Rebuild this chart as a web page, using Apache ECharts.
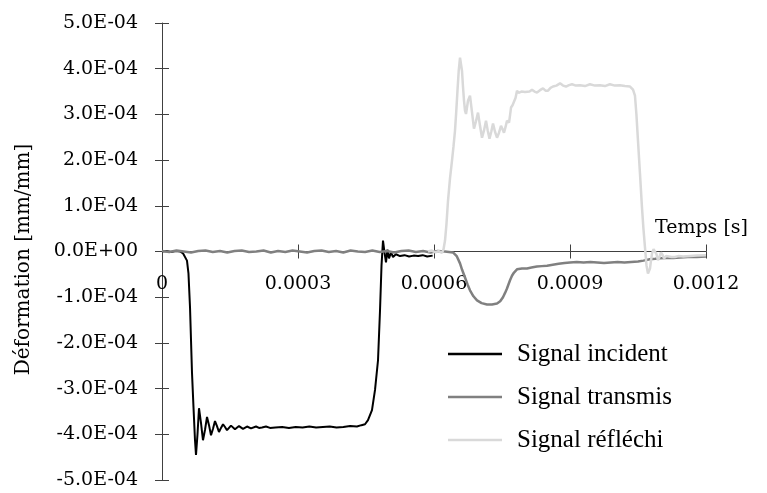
<!DOCTYPE html>
<html>
<head>
<meta charset="utf-8">
<script src="https://cdn.jsdelivr.net/npm/echarts@6.0.0/dist/echarts.min.js"></script>
<style>
  html, body { margin: 0; padding: 0; background: #fff; }
  #chart { width: 767px; height: 493px; }
</style>
</head>
<body>
<div id="chart"></div>
<script>
// temps en microsecondes, deformation en 1E-04 mm/mm
var incidentTime = [0, 10, 20, 30, 40, 46.3, 55.1, 58.4, 61.8, 66.2, 69.5, 72.8, 75, 78.3, 81.6, 86, 90.4, 94.9,
	99.3, 103.7, 108.1, 112.5, 116.9, 121.3, 125.7, 130.1, 134.6, 139, 143.4, 147.8, 152.2, 156.6, 161, 165.4,
	169.9, 174.3, 178.7, 183, 187.5, 191.9, 196.3, 200.7, 207.4, 214, 220.6, 229.4, 238.2, 250, 265, 280, 295,
	310, 325, 340, 355, 370, 385, 400, 415, 430, 440, 447.8, 454.4, 463.2, 469.9, 476.5, 480.9, 484.2, 487.5,
	490.8, 494.1, 497.4, 500.7, 505.2, 509.6, 516, 525, 535, 545, 555, 565, 575, 585, 597];
var incidentStrain = [0, 0.01, -0.01, 0.01, 0, -0.04, -0.2, -0.48, -1.22, -2.66, -3.41, -4.13, -4.45, -4.0, -3.43,
	-3.75, -4.13, -3.9, -3.62, -3.8, -4.02, -3.88, -3.71, -3.82, -3.95, -3.86, -3.78, -3.84, -3.91, -3.86, -3.81,
	-3.85, -3.89, -3.85, -3.82, -3.86, -3.88, -3.85, -3.83, -3.86, -3.87, -3.84, -3.83, -3.86, -3.85, -3.83, -3.86,
	-3.85, -3.84, -3.86, -3.84, -3.85, -3.83, -3.85, -3.84, -3.83, -3.85, -3.84, -3.82, -3.83, -3.8, -3.78, -3.69,
	-3.47, -3.03, -2.38, -1.29, -0.31, 0.24, -0.02, -0.24, 0.04, -0.15, -0.02, -0.12, -0.06, -0.1, -0.08, -0.11,
	-0.09, -0.1, -0.08, -0.11, -0.09];

var transmisTime = [0, 16, 32, 48, 64, 80, 96, 112, 128, 144, 160, 176, 192, 208, 224, 240, 256, 272, 288, 304,
	320, 336, 352, 368, 384, 400, 416, 432, 448, 464, 480, 496, 512, 528, 544, 560, 576, 592, 608, 624, 641.9,
	650, 657.4, 662, 668.4, 674, 679.4, 687, 694.9, 705, 716.9, 728, 739, 746, 752.2, 757, 761, 767.7, 772, 776.5,
	783.1, 794, 805.2, 815, 827, 838, 849.3, 862, 875, 888, 900, 915, 930, 945, 960, 975, 990, 1005, 1020, 1035,
	1050, 1062, 1076, 1088, 1098.5, 1112, 1128, 1142.6, 1160, 1180, 1200];
var transmisStrain = [0.01, -0.01, 0.02, 0, -0.02, 0.01, 0.02, -0.01, 0.01, -0.02, 0.01, 0.02, -0.01, 0, 0.02,
	-0.02, 0.01, -0.01, 0.02, 0, -0.02, 0.01, 0.02, -0.01, 0.01, -0.02, 0.02, 0, -0.01, 0.02, -0.01, 0.01, -0.02,
	0.01, 0.02, -0.01, 0.01, -0.02, 0.01, 0, -0.02, -0.1, -0.26, -0.4, -0.57, -0.72, -0.85, -0.98, -1.07, -1.13,
	-1.16, -1.16, -1.14, -1.09, -1.0, -0.9, -0.81, -0.63, -0.53, -0.46, -0.39, -0.37, -0.37, -0.35, -0.33, -0.32,
	-0.31, -0.29, -0.27, -0.25, -0.24, -0.23, -0.24, -0.23, -0.24, -0.25, -0.24, -0.23, -0.24, -0.23, -0.22, -0.2,
	-0.17, -0.16, -0.15, -0.14, -0.14, -0.13, -0.12, -0.12, -0.11];

var reflechiTime = [586.8, 595, 603, 610, 617.6, 621, 624.3, 627.5, 630.9, 635.3, 639.7, 643, 646.3, 649, 651.8,
	654.5, 657.4, 659.6, 661.8, 664, 666.2, 668.4, 670.6, 675, 679.4, 683.8, 688.2, 692.6, 697.1, 701.5, 705.9,
	710.3, 714.7, 718.5, 722.4, 726.3, 730.2, 734.6, 739, 743.4, 747.8, 751, 754.4, 757.7, 761, 765.5, 767.7, 769.9,
	773.2, 776.5, 779.8, 783.1, 786.4, 789.7, 793, 796.3, 800.8, 805.2, 810.7, 816.2, 821.7, 827.2, 833.8, 840.5,
	846, 851.5, 857, 862.5, 870, 878, 884.6, 891.2, 897.8, 904.4, 913, 922, 933, 944, 955, 966, 977, 988, 999,
	1010, 1021, 1032.4, 1039, 1043.3, 1046.5, 1050, 1054.4, 1058.8, 1062, 1065.4, 1068.7, 1072, 1074.3, 1076.5,
	1078.7, 1081, 1084.3, 1087.5, 1090.8, 1094, 1097.4, 1100.7, 1104, 1107.4, 1112, 1116.2, 1124, 1131.6, 1140,
	1150, 1164.7, 1180, 1200];
var reflechiStrain = [0, 0.02, -0.02, 0.01, -0.03, 0.05, 0.24, 0.6, 1.11, 1.6, 1.99, 2.3, 2.64, 3.05, 3.52, 3.95,
	4.24, 4.2, 3.95, 3.6, 3.3, 3.08, 3.01, 3.3, 3.41, 3.05, 2.69, 2.85, 3.04, 2.75, 2.49, 2.65, 2.86, 2.65, 2.47,
	2.62, 2.8, 2.62, 2.49, 2.6, 2.75, 2.68, 2.6, 2.72, 2.86, 2.82, 2.98, 3.15, 3.2, 3.22, 3.36, 3.52, 3.47, 3.44,
	3.5, 3.54, 3.49, 3.46, 3.5, 3.54, 3.5, 3.48, 3.53, 3.57, 3.52, 3.52, 3.58, 3.61, 3.63, 3.68, 3.63, 3.61, 3.64,
	3.66, 3.63, 3.64, 3.62, 3.66, 3.63, 3.64, 3.62, 3.66, 3.63, 3.64, 3.62, 3.61, 3.54, 3.41, 3.0, 2.42, 1.7, 0.96,
	0.5, 0.09, -0.3, -0.48, -0.47, -0.37, -0.2, -0.04, 0.05, 0.07, -0.06, -0.19, -0.12, -0.02, -0.07, -0.15, -0.1,
	-0.08, -0.12, -0.12, -0.1, -0.11, -0.1, -0.09, -0.08];

var seriesNames = ['Signal incident', 'Signal transmis', 'Signal réfléchi'];
var seriesColors = ['#000000', '#808080', '#d9d9d9'];

var xTicks = { min: 0, max: 0.0012, interval: 0.0003 };
var yTicks = { min: -0.0005, max: 0.0005, interval: 0.0001 };

function toPoints(times, strains) {
	return times.map(function (t, i) { return [t * 1e-6, strains[i] * 1e-4]; });
}

var axisColor = '#404040';
var labelFont = { fontFamily: 'DejaVu Serif', fontSize: 19, color: '#000' };
// l'axe des temps passe par zero : on le remonte de la moitie de la hauteur du graphique
var gridTop = 23, gridBottom = 13;
var zeroOffset = -(493 - gridTop - gridBottom) / 2;

var myChart = echarts.init(document.getElementById('chart'));

myChart.setOption({
	animation: false,
	grid: { left: 162, right: 61, top: gridTop, bottom: gridBottom, outerBoundsMode: 'none' },
	legend: {
		orient: 'vertical',
		left: 448,
		top: 340,
		padding: 0,
		icon: 'rect',
		itemWidth: 54,
		itemHeight: 2.5,
		itemGap: 15,
		data: seriesNames,
		textStyle: { fontFamily: 'Liberation Serif', fontSize: 25, color: '#000', lineHeight: 28, padding: [0, 0, 0, 10] }
	},
	xAxis: [{
		type: 'value',
		position: 'bottom',
		offset: zeroOffset,
		min: xTicks.min, max: xTicks.max, interval: xTicks.interval,
		name: 'Temps [s]',
		nameLocation: 'end',
		nameGap: -51,
		nameTextStyle: { fontFamily: 'DejaVu Serif', fontSize: 19, color: '#000', verticalAlign: 'bottom', padding: [0, 0, 14, 0] },
		axisLine: { onZero: false, lineStyle: { color: axisColor, width: 1 } },
		axisTick: { show: true, length: 7, lineStyle: { color: axisColor } },
		axisLabel: Object.assign({ margin: 23, showMinLabel: true, showMaxLabel: true, formatter: function (v) {
			return v === 0 ? '0' : v.toFixed(4);
		} }, labelFont),
		splitLine: { show: false }
	}, {
		// petites graduations au-dessus de l'axe
		type: 'value',
		position: 'bottom',
		offset: zeroOffset,
		min: xTicks.min, max: xTicks.max, interval: xTicks.interval,
		axisLine: { show: false, onZero: false },
		axisTick: { show: true, inside: true, length: 7, lineStyle: { color: axisColor } },
		axisLabel: { show: false },
		splitLine: { show: false }
	}],
	yAxis: [{
		type: 'value',
		min: yTicks.min, max: yTicks.max, interval: yTicks.interval,
		name: 'Déformation [mm/mm]',
		nameLocation: 'middle',
		nameGap: 128,
		nameTextStyle: { fontFamily: 'DejaVu Serif', fontSize: 20, color: '#000', padding: [0, 16, 0, 0] },
		axisLine: { show: true, onZero: false, lineStyle: { color: axisColor, width: 1 } },
		axisTick: { show: true, length: 7, lineStyle: { color: axisColor } },
		axisLabel: Object.assign({ margin: 24, formatter: function (v) {
			if (Math.abs(v) < 1e-12) return '0.0E+00';
			return (v / 1e-4).toFixed(1) + 'E-04';
		} }, labelFont),
		splitLine: { show: false }
	}, {
		type: 'value',
		position: 'left',
		min: yTicks.min, max: yTicks.max, interval: yTicks.interval,
		axisLine: { show: false, onZero: false },
		axisTick: { show: true, inside: true, length: 7, lineStyle: { color: axisColor } },
		axisLabel: { show: false },
		splitLine: { show: false }
	}],
	series: [
		{ name: seriesNames[0], type: 'line', symbol: 'none', data: toPoints(incidentTime, incidentStrain),
			itemStyle: { color: seriesColors[0] }, lineStyle: { color: seriesColors[0], width: 2 } },
		{ name: seriesNames[1], type: 'line', symbol: 'none', data: toPoints(transmisTime, transmisStrain),
			itemStyle: { color: seriesColors[1] }, lineStyle: { color: seriesColors[1], width: 2.5 } },
		{ name: seriesNames[2], type: 'line', symbol: 'none', data: toPoints(reflechiTime, reflechiStrain),
			itemStyle: { color: seriesColors[2] }, lineStyle: { color: seriesColors[2], width: 2.5 } }
	]
});
window.onresize = function () {
	myChart.resize();
};
</script>
</body>
</html>
